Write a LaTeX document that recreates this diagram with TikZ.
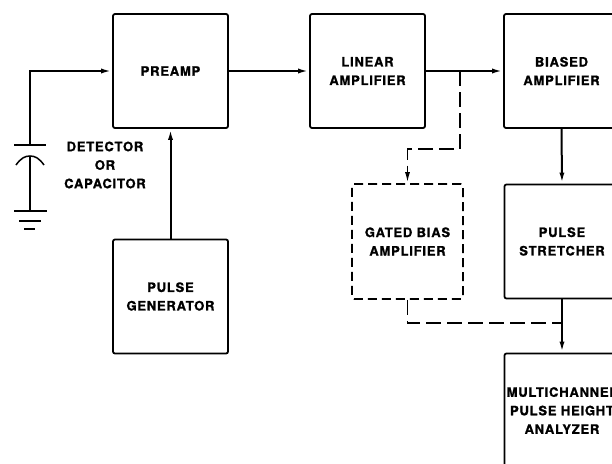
\documentclass[tikz,border=0pt]{standalone}
\usepackage{fontspec}
\usetikzlibrary{arrows.meta,positioning,calc}
\newfontfamily\blockfont{TeX Gyre Heros}[LetterSpace=6,FakeBold=1.2]
\tikzset{
  block/.style={draw, line width=1.8pt, rounded corners=2pt, minimum width=115pt,
    minimum height=114pt, inner sep=0pt, align=center,
    font=\blockfont\bfseries\fontsize{13}{18.5}\selectfont},
  gatedblock/.style={block, dash pattern=on 9pt off 5pt},
  sig/.style={line width=2pt, -{Latex[length=11pt,width=5pt]}},
  branch/.style={line width=1.8pt, dash pattern=on 15pt off 6pt},
  plate/.style={line width=1.5pt}
}

\begin{document}
\begin{tikzpicture}[x=1pt,y=-1pt]
    \useasboundingbox (0,0) rectangle (612,463);
    % main chain
    \node[block] (pre) at (170.5,71) {PREAMP};
    \node[block] (lin) at (367.5,71) {LINEAR\\AMPLIFIER};
    \node[block] (bia) at (561.5,71) {BIASED\\AMPLIFIER};
    \node[block] (str) at (562,241.5) {PULSE\\STRETCHER};
    \node[block] (mca) at (562,410.5) {MULTICHANNEL\\PULSE HEIGHT\\ANALYZER};
    \node[block] (gen) at (170.5,296.5) {PULSE\\GENERATOR};
    \node[gatedblock, minimum width=111pt, minimum height=115pt] (gat) at (407.5,241.5) {GATED BIAS\\AMPLIFIER};
    \draw[sig] (pre.east) -- (lin.west);
    \draw[sig] (lin.east) -- (bia.west);
    \draw[sig] (bia.south) -- (str.north);
    \draw[sig] (str.south) -- (mca.north);
    \draw[sig] (gen.north) -- (pre.south);
    % gated bias branch (dashed)
    \coordinate (tap) at (460,71);
    \coordinate (join) at (562,323);
    \draw[branch, -{Latex[length=11pt,width=5pt]}] (tap) -- ++(0,78) -| (gat.north);
    \draw[branch] (gat.south) |- (join);
    % detector or capacitor
    \coordinate (top) at (30,145);
    \draw[sig] (top) |- (pre.west);
    \draw[plate] (14,145) -- (46,145);
    \draw[plate] (16,165) .. controls (21,158) and (25,156) .. (30,156)
                          .. controls (35,156) and (39,158) .. (44,165);
    \draw[plate] (30,156) -- (30,211);
    \draw[plate] (14,211) -- (47,211);
    \draw[plate] (19,221) -- (41,221);
    \draw[line width=2.2pt] (24,229) -- (35,229);
    \node[align=center, font=\blockfont\bfseries\fontsize{13}{18.5}\selectfont] (det) at (105,165) {DETECTOR\\OR\\CAPACITOR};
\end{tikzpicture}
\end{document}
